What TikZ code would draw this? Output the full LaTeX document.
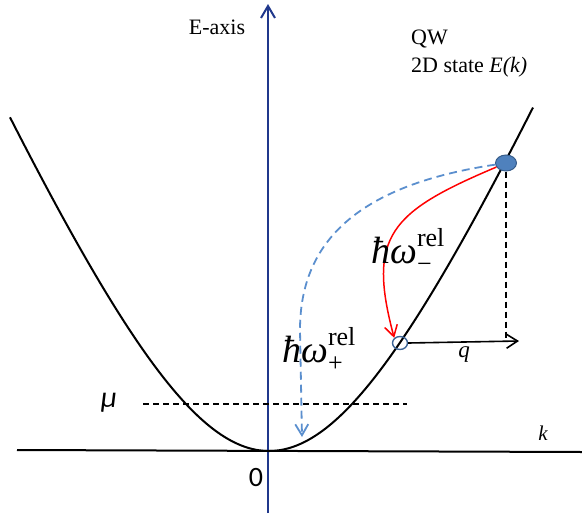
\documentclass[tikz,border=0pt]{standalone}
\usepackage{fontspec}
\usetikzlibrary{arrows.meta,shapes.geometric}
\newfontfamily\tms{Liberation Serif}
\newfontfamily\calib{Carlito}
\definecolor{axisblue}{RGB}{32,56,140}
\definecolor{dotfill}{RGB}{79,129,189}
\definecolor{dotedge}{RGB}{56,93,138}
\definecolor{dashblue}{RGB}{91,143,206}
\definecolor{circedge}{RGB}{60,100,150}
\newcommand{\hwlab}[1]{{\tms\itshape ħω}\rlap{\raisebox{17pt}{\fontsize{26}{26}\selectfont\tms rel}}\raisebox{-9pt}{\fontsize{26}{26}\selectfont\tms #1}}
\begin{document}
\begin{tikzpicture}[x=1pt,y=-1pt,
  vtip/.style={-{Straight Barb[length=11pt,width=14pt]}},
  blackdash/.style={black,line width=1.4pt,dash pattern=on 6pt off 4pt},
  txt/.style={font=\tms\fontsize{22}{24}\selectfont},
  dotnode/.style={ellipse,fill=dotfill,draw=dotedge,line width=1pt,minimum width=21pt,minimum height=16pt,inner sep=0pt},
  circnode/.style={ellipse,draw=circedge,line width=1.4pt,minimum width=15pt,minimum height=13pt,inner sep=0pt},
  hwnode/.style={anchor=base west,inner sep=0pt,font=\fontsize{38}{40}\selectfont}]
\useasboundingbox (0,0) rectangle (582,515);
% axes
\coordinate (ebot) at (268,513);
\coordinate (etop) at (268,4);
\coordinate (kl) at (17,450);
\coordinate (kr) at (582,452);
\draw[line width=2pt] (kl) -- (kr);
\draw[axisblue,line width=2pt,-{Straight Barb[length=12pt,width=14pt]}] (ebot) -- (etop);
% dispersion curve
\draw[line width=2pt] plot[domain=-259:264,samples=150,smooth]
  ({269+\x},{451-(sqrt(1+0.401*(\x/100)*(\x/100))-1)/0.002764});
% chemical potential
\coordinate (mul) at (143,404);
\coordinate (mur) at (407,404);
\draw[blackdash] (mul) -- (mur);
% states
\node[dotnode] (hi) at (506,163) {};
\node[circnode] (lo) at (400,343) {};
\coordinate (qend) at (519,341);
\coordinate (dn) at (302,437);
\draw[blackdash] (hi.south) -- (hi.south |- qend);
\draw[line width=1.6pt,vtip] (lo.east) -- (qend);
\draw[red,line width=1.5pt,-{Straight Barb[length=11pt,width=13pt]}] (hi) .. controls (390,212) and (367,236) .. (lo.north west);
\draw[dashblue,line width=1.8pt,dash pattern=on 8pt off 5pt,-{Straight Barb[length=11pt,width=13pt]}] (hi) .. controls (360,185) and (300,240) .. (300,330) -- (dn);
% labels
\node[txt] (eax) at (217,27) {E-axis};
\node[txt,anchor=base west,inner sep=0pt] (qw) at (411,44) {QW};
\node[txt,anchor=base west,inner sep=0pt] (st) at (411,72) {2D state \textit{E(k)}};
\node[font=\calib\fontsize{28}{30}\selectfont] (zero) at (256,478) {0};
\node[font=\tms\itshape\fontsize{21}{22}\selectfont] (klab) at (543,433) {k};
\node[font=\tms\itshape\fontsize{23}{24}\selectfont] (qlab) at (464,355) {q};
\node[font=\calib\itshape\fontsize{30}{32}\selectfont] (mu) at (109,403) {μ};
\node[hwnode] (wm) at (371,263) {\hwlab{−}};
\node[hwnode] (wp) at (282,362) {\hwlab{+}};
\end{tikzpicture}
\end{document}
